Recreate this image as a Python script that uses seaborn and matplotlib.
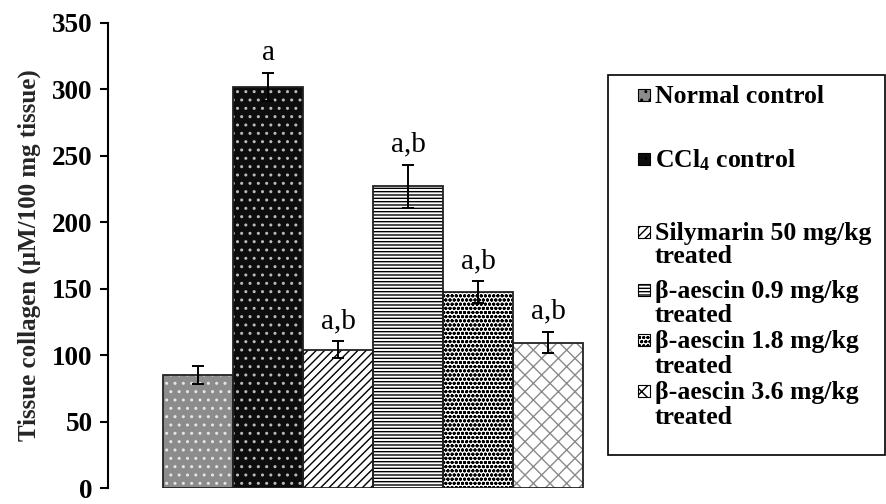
import matplotlib
matplotlib.use("Agg")
import matplotlib.pyplot as plt
from matplotlib.patches import Rectangle
import seaborn as sns
import pandas as pd

groups = ["Normal control", "CCl4 control", "Silymarin 50 mg/kg treated",
          "β-aescin 0.9 mg/kg treated", "β-aescin 1.8 mg/kg treated",
          "β-aescin 3.6 mg/kg treated"]
legend_lines = [["Normal control"], [r"CCl$_{4}$ control"],
                ["Silymarin 50 mg/kg", "treated"], ["β-aescin 0.9 mg/kg", "treated"],
                ["β-aescin 1.8 mg/kg", "treated"], ["β-aescin 3.6 mg/kg", "treated"]]
collagen = [85, 301.5, 104, 227, 147.5, 109.5]
sem = [6.5, 10.5, 6.5, 16, 8, 8]
letters = ["", "a", "a,b", "a,b", "a,b", "a,b"]
yticks = [0, 50, 100, 150, 200, 250, 300, 350]

sns.set_theme(style="white")
plt.rcParams["font.family"] = ["Liberation Serif", "DejaVu Serif"]
plt.rcParams["mathtext.fontset"] = "custom"
plt.rcParams["mathtext.rm"] = "Liberation Serif:bold"
plt.rcParams["mathtext.it"] = "Liberation Serif:bold"
plt.rcParams["mathtext.bf"] = "Liberation Serif:bold"
plt.rcParams["hatch.linewidth"] = 1.0

faces = ["#8c8c8c", "#0d0d0d", "white", "white", "white", "white"]
hcols = ["#e6e6e6", "#bbbbbb", "black", "black", "black", "#8a8a8a"]
hatches = ["..", "..", "////", "-----", "oooo", "xx"]

df = pd.DataFrame({"group": groups, "collagen": collagen})

W, H = 887, 504
fig = plt.figure(figsize=(8.87, 5.04), dpi=100)
ax = fig.add_axes([108 / W, 16 / H, 492 / W, 465 / H])
sns.barplot(data=df, x="group", y="collagen", order=groups, width=1.0,
            errorbar=None, color="white", ax=ax)

bars = list(ax.patches)
for p, fc, hc, h in zip(bars, faces, hcols, hatches):
    p.set_facecolor(fc)
    p.set_edgecolor(hc)
    p.set_hatch(h)
    p.set_linewidth(0)
    ax.add_patch(Rectangle(p.get_xy(), p.get_width(), p.get_height(),
                           fill=False, edgecolor="#222222", linewidth=1.3, zorder=3))

xs = [p.get_x() + p.get_width() / 2 for p in bars]
ax.errorbar(xs, collagen, yerr=sem, fmt="none", ecolor="black",
            elinewidth=1.4, capsize=4, capthick=1.4, zorder=4)
for x, v, e, t in zip(xs, collagen, sem, letters):
    if t:
        ax.text(x, v + e + 10, t, ha="center", va="baseline", fontsize=21,
                color="black")

ax.set_xlim(-1.286, 5.743)
ax.set_ylim(0, 350)
ax.set_yticks(yticks)
ax.set_yticklabels([str(t) for t in yticks], fontsize=19.5, fontweight="bold")
ax.set_xticks([])
ax.set_xlabel("")
ax.set_ylabel("Tissue collagen (μM/100 mg tissue)", fontsize=18,
              fontweight="bold", labelpad=8)
for s in ["top", "right", "bottom"]:
    ax.spines[s].set_visible(False)
ax.spines["left"].set_color("black")
ax.spines["left"].set_linewidth(1.5)
ax.tick_params(axis="y", direction="out", length=6, width=1.5, left=True,
               pad=5, colors="black")

# legend box
fig.patches.append(Rectangle((608 / W, 1 - 455 / H), 277 / W, 380 / H,
                             transform=fig.transFigure, fill=True,
                             facecolor="white", edgecolor="black",
                             linewidth=1.2, zorder=1))
baselines = [[103], [167], [240, 263], [298, 322], [348, 373], [399, 424]]
for lines, bl, fc, hc, h in zip(legend_lines, baselines, faces, hcols, hatches):
    yc = bl[0] - 8
    fig.patches.append(Rectangle((638 / W, 1 - (yc + 6) / H), 12 / W, 12 / H,
                                 transform=fig.transFigure, facecolor=fc,
                                 edgecolor="black", hatch=h, linewidth=0.8,
                                 zorder=2))
    for txt, b in zip(lines, bl):
        fig.text(655 / W, 1 - b / H, txt, fontsize=18.5, fontweight="bold",
                 ha="left", va="baseline", color="black", zorder=3)

fig.savefig("out.png", dpi=100)
